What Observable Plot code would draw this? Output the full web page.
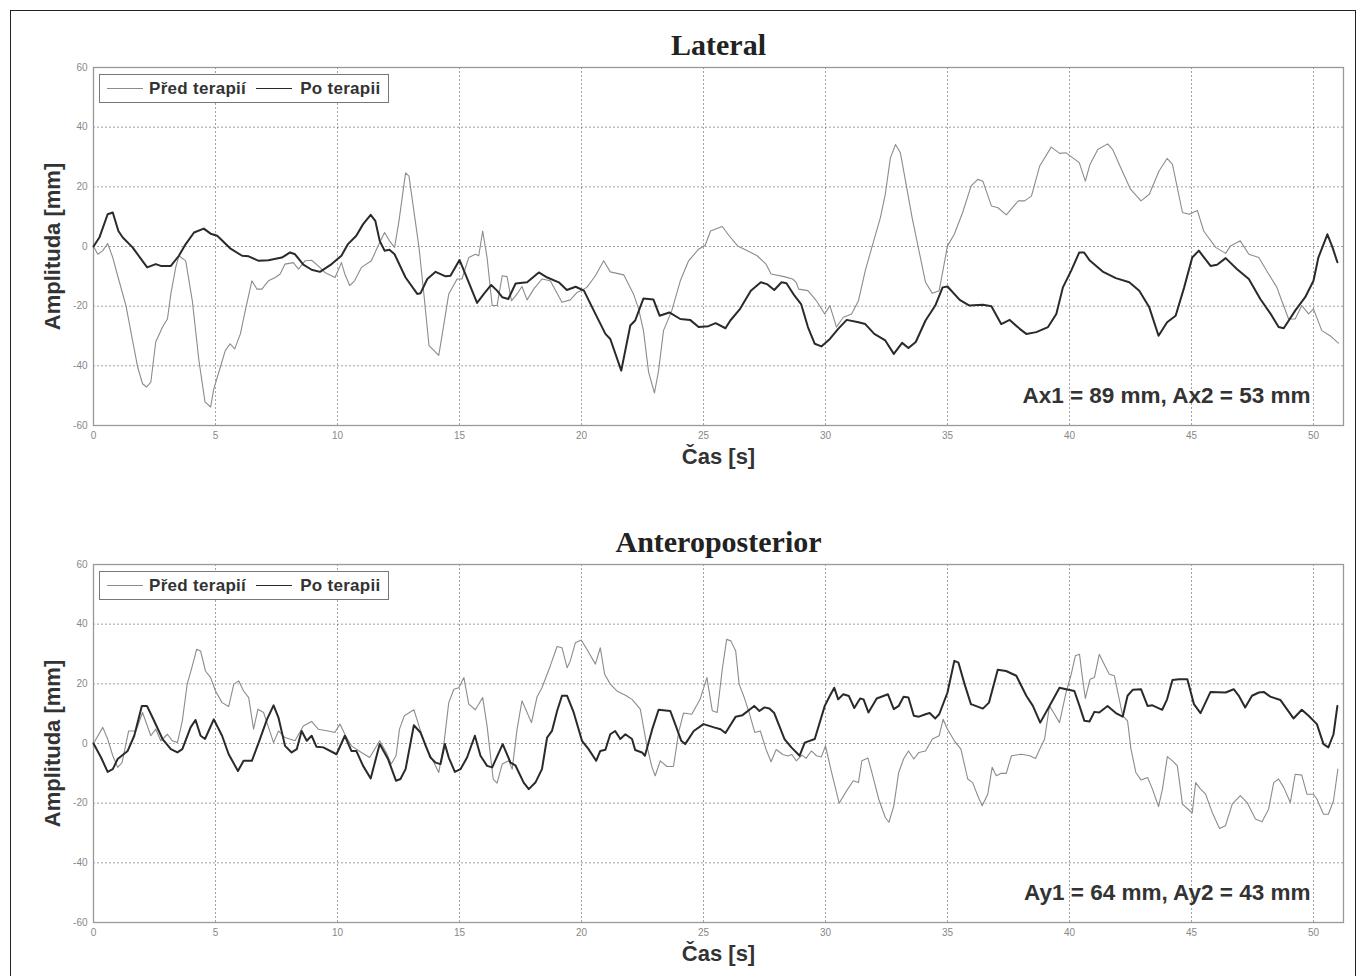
<!DOCTYPE html>
<html><head><meta charset="utf-8">
<script src="https://cdn.jsdelivr.net/npm/d3@7"></script>
<script src="https://cdn.jsdelivr.net/npm/@observablehq/plot@0.6"></script>
<style>
body{margin:0;background:#fff;}
#page{position:relative;width:1365px;height:976px;overflow:hidden;font-family:"Liberation Sans",Arial,sans-serif;background:#fff}
#border{position:absolute;left:10px;top:10px;width:1346px;height:990px;border:1px solid #222;box-sizing:border-box}
.panel{position:absolute;left:0}
.legend{position:absolute;left:99px;width:290px;height:29px;border:1px solid #777;background:#fff;box-sizing:border-box;display:flex;align-items:center;font-weight:bold;font-size:17px;letter-spacing:0.3px;color:#333;padding-left:7px}
.sw{display:inline-block;width:36px;height:0}
</style></head><body><div id="page"><div id="border"></div></div>
<script>
const xTicks = [0,5,10,15,20,25,30,35,40,45,50];
const yTicks = [-60,-40,-20,0,20,40,60];
const seriesNames = ["Před terapií", "Po terapii"];
const titles = ["Lateral", "Anteroposterior"];
const annotations = ["Ax1 = 89 mm, Ax2 = 53 mm", "Ay1 = 64 mm, Ay2 = 43 mm"];

const latBefore = [[0,0],[0.18,-2.6],[0.38,-1.4],[0.58,1],[0.79,-3.7],[0.99,-9.8],[1.33,-19.8],[1.6,-31.5],[1.81,-40.4],[2.01,-46],[2.17,-47.1],[2.35,-45.5],[2.55,-32],[2.83,-27],[3.03,-24.3],[3.17,-15.9],[3.37,-7],[3.5,-3.1],[3.78,-4.8],[4.05,-18.2],[4.32,-38.2],[4.57,-52.1],[4.8,-53.8],[4.93,-47.7],[5.2,-40.4],[5.4,-34.9],[5.6,-32.6],[5.79,-34.3],[6.02,-29.3],[6.22,-21.5],[6.49,-11.5],[6.7,-14.3],[6.9,-14.3],[7.17,-11.5],[7.45,-10.4],[7.65,-9.2],[7.85,-5.9],[8.19,-5.4],[8.4,-7.6],[8.67,-4.8],[8.94,-4.6],[9.21,-6.5],[9.48,-8.7],[9.9,-10.4],[10.16,-5.4],[10.3,-9.2],[10.5,-13.1],[10.7,-11.5],[10.98,-7],[11.39,-4.8],[11.66,0.2],[11.93,4.7],[12.13,1.9],[12.34,-0.3],[12.52,8.6],[12.79,24.7],[12.93,23.6],[13.34,-0.3],[13.54,-15.9],[13.75,-33.2],[14.15,-36.5],[14.36,-26],[14.56,-15.9],[14.9,-10.9],[15.1,-10.9],[15.38,-3.7],[15.65,-2.6],[15.79,-3.1],[15.95,5.2],[16.13,-3.7],[16.34,-19.8],[16.54,-19.8],[16.75,-9.8],[16.95,-10.1],[17.13,-18.2],[17.36,-15.9],[17.56,-13.4],[17.77,-17.9],[18.04,-14.3],[18.38,-10.9],[18.72,-11.5],[19.2,-18.7],[19.54,-17.9],[19.82,-15.4],[20.22,-13.7],[20.57,-9.8],[20.91,-4.8],[21.18,-8.5],[21.73,-9.5],[22.13,-15.9],[22.34,-20.9],[22.54,-28.2],[22.75,-42.1],[22.99,-49.1],[23.16,-41.6],[23.36,-28.2],[23.7,-21.5],[24.05,-11.5],[24.39,-4.8],[24.8,-0.9],[25.07,0.4],[25.29,5.2],[25.77,6.7],[26.05,3.6],[26.4,0.2],[26.8,-1.4],[27.2,-3.1],[27.56,-5.9],[27.77,-9.2],[28.3,-10.1],[28.65,-10.9],[28.8,-12],[28.9,-14.3],[29.28,-14.8],[29.63,-18.2],[29.97,-22.6],[30.18,-19.8],[30.45,-27],[30.73,-23.7],[31.07,-22.6],[31.35,-18.2],[31.63,-8.1],[31.9,-0.3],[32.25,9.7],[32.45,17.5],[32.66,29.7],[32.87,34.2],[33.07,31.4],[33.28,21.9],[33.55,9.7],[33.83,-1.4],[34.1,-12],[34.38,-15.7],[34.66,-14.8],[35.0,0.2],[35.28,4.1],[35.62,11.4],[35.97,20.3],[36.24,22.5],[36.45,21.9],[36.8,13.6],[37.07,13],[37.41,10.6],[37.9,15.3],[38.16,15.3],[38.44,16.9],[38.78,27],[39.25,33.3],[39.6,31.2],[39.86,31.4],[40.4,28.1],[40.65,21.9],[40.84,27.5],[41.16,32.5],[41.56,34.4],[41.77,32.5],[42.1,26.4],[42.5,19.2],[42.93,15.3],[43.27,17.5],[43.67,25.3],[44.0,29.5],[44.22,27.5],[44.63,11.4],[44.9,10.8],[45.24,12.1],[45.5,5.2],[45.99,-0.3],[46.4,-2.3],[46.6,0.2],[47.0,1.9],[47.35,-2.6],[47.76,-3.7],[48.16,-9.2],[48.5,-13.7],[48.7,-18.2],[48.98,-24.3],[49.25,-24.3],[49.52,-19.8],[49.8,-22.6],[50.0,-20.9],[50.34,-28.2],[50.68,-29.9],[51.02,-32.4]];

const latAfter = [[0,0],[0.24,3],[0.58,10.8],[0.79,11.4],[1.02,5.2],[1.2,3],[1.6,-0.3],[2.2,-7],[2.55,-5.9],[2.76,-6.5],[3.17,-6.5],[3.5,-3.1],[3.78,0.8],[4.12,4.7],[4.52,6],[4.8,4.3],[5.07,3.6],[5.6,-0.6],[6.09,-3.1],[6.36,-3.3],[6.77,-4.8],[7.17,-4.6],[7.72,-3.7],[8.06,-2],[8.26,-2.6],[8.6,-6.1],[8.94,-7.8],[9.28,-8.5],[9.76,-5.9],[10.16,-3.1],[10.43,0.8],[10.77,3.6],[11.05,7.5],[11.36,10.6],[11.55,8.6],[11.73,1.9],[11.93,-1.4],[12.13,-1.1],[12.34,-2.6],[12.79,-10.4],[13.27,-15.9],[13.4,-15.7],[13.68,-10.9],[14.02,-8.5],[14.43,-10],[14.63,-9.8],[15.0,-4.5],[15.3,-10.4],[15.72,-18.9],[16.0,-15.9],[16.3,-12.9],[16.54,-14.8],[16.75,-17],[17.0,-17.6],[17.3,-12.4],[17.77,-12],[18.25,-8.7],[18.6,-10.4],[19.07,-12],[19.4,-14.6],[19.76,-13.5],[20.1,-14.8],[20.57,-22.6],[20.98,-29.3],[21.18,-31],[21.63,-41.6],[22.0,-26.5],[22.2,-24.8],[22.54,-17.4],[22.95,-17.8],[23.2,-23.2],[23.6,-22.1],[24.05,-24.3],[24.45,-24.6],[24.8,-27],[25.2,-26.7],[25.5,-25.7],[25.9,-27.4],[26.1,-24.8],[26.5,-20.9],[26.94,-14.8],[27.35,-12],[27.6,-12.6],[27.9,-14.6],[28.2,-12],[28.4,-12.3],[28.73,-16.5],[29.0,-19.3],[29.28,-27],[29.56,-32.6],[29.83,-33.5],[30.18,-31],[30.52,-27.6],[30.87,-24.6],[31.35,-25.4],[31.63,-26],[32.0,-29.3],[32.45,-31.5],[32.8,-36],[33.14,-32.3],[33.4,-34],[33.7,-32],[34.1,-24.8],[34.5,-19.8],[34.8,-13.7],[35.0,-13.4],[35.5,-17.9],[35.9,-19.8],[36.45,-19.5],[36.8,-20],[37.2,-26],[37.55,-24.6],[37.96,-27.6],[38.23,-29.3],[38.64,-28.7],[39.12,-27],[39.46,-22.6],[39.73,-13.7],[40.07,-8.1],[40.4,-2],[40.6,-2],[40.82,-4.6],[41.36,-8.4],[41.9,-10.6],[42.45,-12],[42.86,-14.8],[43.27,-20.4],[43.65,-29.9],[44.0,-25.4],[44.35,-23.2],[44.7,-13.7],[45.03,-3.7],[45.3,-1.4],[45.78,-6.5],[46.05,-6.1],[46.4,-3.9],[46.87,-7.6],[47.35,-10.9],[47.82,-17.6],[48.23,-22.4],[48.57,-27],[48.78,-27.4],[49.25,-21.5],[49.66,-17],[50.0,-11.5],[50.2,-3.7],[50.57,4.1],[50.78,-0.3],[50.98,-5.3]];

const apBefore = [[0,0],[0.38,5.4],[0.58,1.5],[0.79,-4.1],[0.99,-8],[1.17,-6.4],[1.44,4.2],[1.74,4.2],[2.01,10.4],[2.35,2.6],[2.55,4.8],[2.76,0.9],[3.03,3.1],[3.23,0.9],[3.44,0.3],[3.64,7.6],[3.84,19.9],[4.05,26],[4.23,31.6],[4.39,31],[4.59,24.3],[4.8,22.1],[5.0,17.6],[5.27,13.7],[5.54,12.4],[5.75,19.9],[5.95,21],[6.15,17.6],[6.36,15.4],[6.56,4.8],[6.74,11.5],[6.97,10.4],[7.11,7],[7.38,0.3],[7.58,4.2],[7.85,2],[8.26,0.9],[8.6,5.9],[8.94,7.4],[9.21,4.8],[9.62,4.2],[9.89,3.7],[10.1,6.5],[10.3,3.1],[10.57,-0.8],[10.98,-3],[11.32,-4.7],[11.73,0.9],[12.0,-3],[12.2,-6.9],[12.4,-4.1],[12.54,4.8],[12.74,9.3],[13.13,11.3],[13.34,5.9],[13.6,-0.8],[13.95,-6.4],[14.15,-9.7],[14.36,-0.2],[14.56,13.7],[14.77,18.2],[14.97,18.7],[15.18,22.1],[15.38,13.2],[15.65,11.3],[15.95,15.4],[16.13,5.9],[16.38,-11.9],[16.54,-13.3],[16.75,-6.9],[17.02,-5.8],[17.16,-8.6],[17.36,4.8],[17.56,14.3],[17.77,10.4],[17.95,7],[18.18,15.7],[18.38,18.7],[18.72,26],[19.0,32.5],[19.2,32.1],[19.41,25.4],[19.54,27.7],[19.75,33.8],[19.99,34.7],[20.22,31.6],[20.57,26.6],[20.77,32.1],[20.95,23.2],[21.18,19.9],[21.45,17.6],[21.8,16.2],[22.07,14.8],[22.41,11.5],[22.68,-0.8],[22.89,-8],[23.02,-10.8],[23.23,-5.8],[23.5,-7.7],[23.77,-7.7],[23.98,3.7],[24.18,10.2],[24.52,9.8],[24.86,14.8],[25.14,22.1],[25.36,11],[25.56,10.4],[25.77,24.9],[25.95,34.9],[26.12,34.4],[26.32,31],[26.46,19.9],[26.67,15.4],[26.87,10.4],[27.1,3.7],[27.33,4.2],[27.56,-1.9],[27.77,-6.1],[27.98,-2],[28.25,-3.7],[28.46,-4.2],[28.62,-3.7],[28.8,-5.8],[29.04,-3.9],[29.2,-5],[29.42,-2.5],[29.63,-4.1],[29.83,-4.5],[30.0,-0.8],[30.25,-9.7],[30.56,-20],[30.87,-15.8],[31.14,-12.5],[31.35,-13.1],[31.49,-5.8],[31.74,-4.9],[31.9,-9.7],[32.18,-18.6],[32.45,-24.8],[32.6,-26.4],[32.8,-20.9],[33.0,-9.7],[33.2,-5.2],[33.4,-2.5],[33.62,-5.2],[33.83,-3],[34.1,-2.5],[34.38,1.5],[34.66,2.6],[34.82,8.1],[35.0,4.8],[35.28,0.9],[35.55,-1.9],[35.83,-11.9],[36.03,-13.1],[36.24,-17.5],[36.42,-20.9],[36.65,-17],[36.83,-8],[37.0,-10.8],[37.2,-10],[37.41,-10],[37.62,-4.1],[38.03,-3.6],[38.37,-4.1],[38.61,-5],[38.78,-1.9],[38.98,1.5],[39.18,12.6],[39.39,9.8],[39.59,7],[39.86,17.1],[40.07,23.2],[40.24,29.4],[40.41,29.9],[40.52,22.7],[40.65,15.1],[40.84,21.5],[41.02,22.1],[41.22,29.9],[41.39,27.1],[41.63,23.2],[41.84,22.7],[42.18,9.3],[42.38,7.6],[42.52,-1.9],[42.72,-9.7],[42.93,-12.2],[43.2,-11.4],[43.4,-15.3],[43.65,-21.1],[43.81,-15.3],[44.01,-4.4],[44.22,-5.8],[44.42,-7.5],[44.63,-20.3],[45.03,-23.3],[45.17,-13.1],[45.37,-15.3],[45.58,-17],[45.85,-23.1],[46.15,-28.5],[46.39,-27.6],[46.67,-20.3],[47.0,-17.5],[47.28,-19.8],[47.62,-25.3],[47.89,-26.2],[48.16,-22],[48.37,-13.1],[48.57,-11.9],[48.78,-14.7],[49.05,-19.8],[49.25,-10.3],[49.52,-10.6],[49.73,-17],[50.0,-17],[50.14,-18.6],[50.41,-23.7],[50.61,-23.7],[50.82,-19.2],[51.0,-8.6]];

const apAfter = [[0,0],[0.31,-4.7],[0.58,-9.5],[0.79,-8.6],[0.99,-5.2],[1.4,-2.5],[1.67,2.6],[1.98,12.6],[2.19,12.6],[2.42,8.7],[2.83,1.5],[3.17,-1.9],[3.44,-3],[3.64,-1.9],[3.98,5.4],[4.18,7.9],[4.39,2.6],[4.57,1.5],[4.93,8.1],[5.27,2.6],[5.54,-3.6],[5.92,-9.2],[6.15,-5.8],[6.49,-5.8],[6.77,0.3],[7.11,8.1],[7.38,12.8],[7.58,8.7],[7.85,-0.8],[8.12,-3],[8.33,-1.9],[8.53,4.2],[8.74,0.9],[8.94,2.6],[9.14,-1.1],[9.42,-1.3],[9.96,-3.6],[10.3,2.6],[10.57,-2.5],[10.77,-2.5],[11.05,-7.5],[11.36,-11.7],[11.73,-0.2],[12.07,-5.2],[12.4,-12.5],[12.58,-11.9],[12.79,-8.6],[13.13,6.1],[13.4,3.7],[13.81,-4.7],[14.02,-6.4],[14.22,-6.9],[14.4,-0.2],[14.56,-4.7],[14.81,-9.5],[15.04,-8.6],[15.31,-4.7],[15.63,2.6],[15.86,-4.1],[16.13,-7.5],[16.34,-8],[16.77,-0.2],[17.09,-6.4],[17.29,-7.3],[17.63,-13.1],[17.84,-15.3],[18.11,-13.1],[18.38,-8.6],[18.59,2],[18.79,4.2],[19.0,10.9],[19.2,16],[19.41,16],[19.68,10.4],[20.02,0.9],[20.29,-1.9],[20.6,-5.8],[20.77,-2.5],[20.98,-2.1],[21.18,3.1],[21.38,4.2],[21.59,1.5],[21.8,3.1],[22.07,1.5],[22.2,-2.2],[22.48,-3],[22.6,-4.1],[22.9,4.8],[23.16,11.3],[23.64,10.9],[23.84,6.5],[24.09,0.9],[24.25,-0.2],[24.6,4.2],[25.0,6.5],[25.43,5.4],[25.7,4.8],[25.9,3.5],[26.32,9],[26.6,9.5],[27.08,12.6],[27.29,10.9],[27.5,12.1],[27.7,11.7],[27.9,10.2],[28.32,1.5],[28.6,-1.3],[28.94,-4.1],[29.15,0.3],[29.56,1.5],[29.97,12.6],[30.18,16],[30.36,18.7],[30.52,14.8],[30.73,16.5],[30.96,15.9],[31.18,11.9],[31.42,15.1],[31.56,14.8],[31.76,10.4],[32.1,15.1],[32.56,16.5],[32.8,11.5],[33.0,12.6],[33.2,15.7],[33.4,15.4],[33.62,9.3],[33.83,9],[34.1,9.8],[34.27,10.2],[34.5,8.4],[34.66,9.8],[35.0,17.1],[35.28,27.7],[35.45,27.1],[35.7,19.9],[35.96,13.2],[36.45,11.7],[36.7,13.7],[37.06,24.7],[37.4,24.3],[37.82,22.7],[38.23,16],[38.5,12.6],[38.8,7],[39.18,12.6],[39.59,18.7],[39.86,18.2],[40.2,17.6],[40.41,12.6],[40.61,7.6],[40.82,7.4],[41.02,10.6],[41.22,10.4],[41.56,12.6],[41.9,10.2],[42.18,9],[42.38,16],[42.59,18],[42.93,18.2],[43.2,12.6],[43.4,12.8],[43.8,11.3],[44.0,14.8],[44.22,21.3],[44.49,21.5],[44.83,21.5],[45.1,13.2],[45.37,10.2],[45.78,17.3],[46.4,17.1],[46.73,18.2],[46.94,16],[47.2,12.1],[47.48,16],[47.76,17.1],[47.96,17.3],[48.23,15.7],[48.64,14.6],[49.18,8.4],[49.52,11.3],[49.8,9.3],[50.14,6.5],[50.41,-0.2],[50.61,-1.3],[50.82,3.1],[50.98,12.6]];

const page = document.getElementById("page");

function makePanel(title, before, after, annot, top) {
  const chart = Plot.plot({
    width: 1365, height: 460,
    marginLeft: 93, marginRight: 22, marginTop: 47, marginBottom: 55,
    style: {fontFamily: "'Liberation Sans', Arial, sans-serif", background: "transparent", overflow: "visible"},
    x: {domain: [0, 51.23]},
    y: {domain: [-60, 60]},
    marks: [
      Plot.gridX(xTicks, {stroke: "#666", strokeOpacity: 0.9, strokeWidth: 0.7, strokeDasharray: "2,2"}),
      Plot.gridY(yTicks, {stroke: "#666", strokeOpacity: 0.9, strokeWidth: 0.7, strokeDasharray: "2,2"}),
      Plot.frame({stroke: "#999", strokeWidth: 1.3}),
      Plot.axisX(xTicks, {tickSize: 0, tickPadding: 6, fontSize: 10, color: "#888", label: null, tickFormat: d => String(d)}),
      Plot.axisY(yTicks, {tickSize: 0, tickPadding: 6, fontSize: 10, color: "#888", label: null, tickFormat: d => String(d)}),
      Plot.line(before, {x: d => d[0], y: d => d[1], stroke: "#8c8c8c", strokeWidth: 1.1}),
      Plot.line(after, {x: d => d[0], y: d => d[1], stroke: "#2a2a2a", strokeWidth: 2}),
      Plot.text([annot], {text: d => d, frameAnchor: "bottom-right", dx: -33, dy: -30, textAnchor: "end", lineAnchor: "middle", fontSize: 22.5, fontWeight: "bold", fill: "#333"}),
      Plot.text([title], {text: d => d, frameAnchor: "top", dy: -22, lineAnchor: "middle", fontSize: 30, fontWeight: "bold", fontFamily: "'Liberation Serif', 'Times New Roman', serif", fill: "#222"}),
      Plot.text(["Čas [s]"], {text: d => d, frameAnchor: "bottom", dy: 31, lineAnchor: "middle", fontSize: 22, fontWeight: "bold", fill: "#333"}),
      Plot.text(["Amplituda [mm]"], {text: d => d, frameAnchor: "left", dx: -41, rotate: -90, textAnchor: "middle", lineAnchor: "middle", fontSize: 22, fontWeight: "bold", fill: "#333"})
    ]
  });
  chart.classList.add("panel");
  chart.style.top = top + "px";
  chart.style.position = "absolute";
  chart.style.left = "0px";
  page.appendChild(chart);

  const lg = document.createElement("div");
  lg.className = "legend";
  lg.style.top = (top + 54) + "px";
  lg.innerHTML =
    `<span class="sw" style="border-top:1px solid #8c8c8c"></span>` +
    `<span style="margin-left:6px">${seriesNames[0]}</span>` +
    `<span class="sw" style="border-top:1.5px solid #2a2a2a;margin-left:10px"></span>` +
    `<span style="margin-left:8px">${seriesNames[1]}</span>`;
  page.appendChild(lg);
}

makePanel(titles[0], latBefore, latAfter, annotations[0], 20);
makePanel(titles[1], apBefore, apAfter, annotations[1], 517);
</script>
</body></html>
